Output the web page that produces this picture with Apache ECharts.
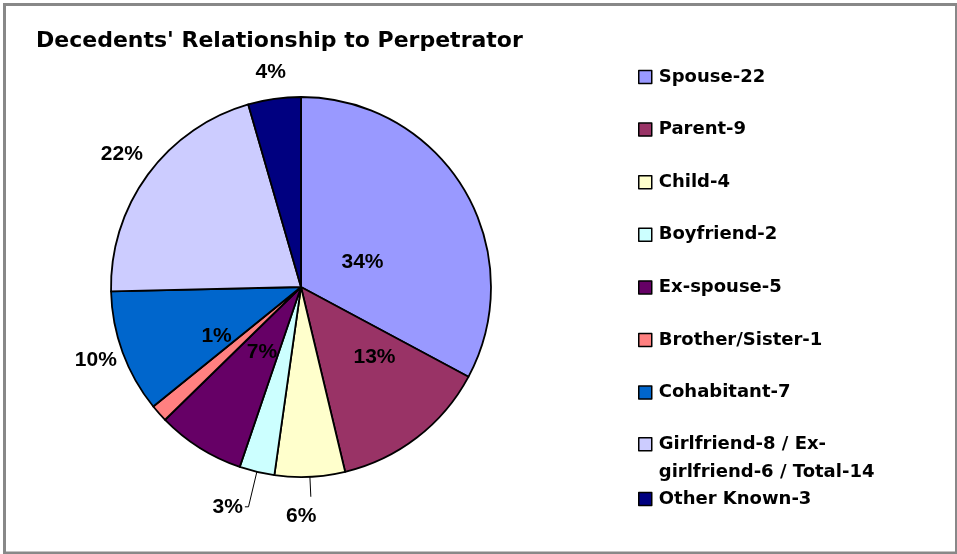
<!DOCTYPE html>
<html><head><meta charset="utf-8">
<script src="https://cdn.jsdelivr.net/npm/echarts@6/dist/echarts.min.js"></script>
<style>html,body{margin:0;padding:0;background:#fff}#c{width:957px;height:554px}</style>
</head><body><div id="c"></div>
<script>
const categories = ['Spouse-22','Parent-9','Child-4','Boyfriend-2','Ex-spouse-5','Brother/Sister-1','Cohabitant-7','Girlfriend-8 / Ex-girlfriend-6 / Total-14','Other Known-3'];
const counts = [22, 9, 4, 2, 5, 1, 7, 14, 3];
const percentLabels = ['34%','13%','6%','3%','7%','1%','10%','22%','4%'];
const colors = ['#9999FF','#993366','#FFFFCC','#CCFFFF','#660066','#FF8080','#0066CC','#CCCCFF','#000080'];

// label styling (not data)
const labelPlacement = ['inside','inside','outside','outside','inside','inside','outside','outside','outside'];
const labelNudge = [[-22.6,25.3],[13.7,-7.6],[-29.8,19.7],null,[13.2,-17.9],[-11.2,-16.1],[-0.8,7.6],[0,-20],[16.5,-27]];
const lineLen = [0,0,20,36,0,0,0,0,0];
const lineLen2 = [0,0,0,3.6,0,0,0,0,0];
const showLine = [false,false,true,true,false,false,false,false,false];

const chart = echarts.init(document.getElementById('c'), null, {renderer:'canvas'});

const pieData = categories.map((name, i) => ({
  name: name,
  value: counts[i],
  itemStyle: { color: colors[i] },
  label: { position: labelPlacement[i], distanceToLabelLine: i === 3 ? 2 : 5 },
  labelLine: { show: showLine[i], length: lineLen[i], length2: lineLen2[i] }
}));

const legendFont = { fontFamily: 'DejaVu Sans', fontWeight: 'bold', fontSize: 18, color: '#000', padding: [0, 0, 0, 2] };
const legendCommon = {
  orient: 'vertical',
  left: 638,
  padding: 0,
  icon: 'rect',
  itemWidth: 13,
  itemHeight: 13,
  selectedMode: false,
  itemStyle: { borderColor: '#000', borderWidth: 1.5 }
};

chart.setOption({
  animation: false,
  backgroundColor: '#fff',
  title: {
    text: "Decedents' Relationship to Perpetrator",
    left: 36,
    top: 30,
    padding: 0,
    textStyle: { fontFamily: 'DejaVu Sans', fontWeight: 'bold', fontSize: 22, color: '#000' }
  },
  graphic: [{
    type: 'rect', silent: true, z: -1,
    shape: { x: 4.5, y: 4.5, width: 952, height: 548.5 },
    style: { fill: 'none', stroke: '#888', lineWidth: 3 }
  }],
  legend: [
    Object.assign({}, legendCommon, {
      top: 67,
      itemGap: 32.6,
      data: categories.slice(0, 7),
      textStyle: Object.assign({}, legendFont, { lineHeight: 20 })
    }),
    Object.assign({}, legendCommon, {
      top: 401.5,
      data: [categories[7]],
      formatter: function (n) { return '\n' + n.replace('Ex-girlfriend', 'Ex-\ngirlfriend'); },
      textStyle: Object.assign({}, legendFont, { lineHeight: 28.5 })
    }),
    Object.assign({}, legendCommon, {
      top: 489,
      data: [categories[8]],
      textStyle: Object.assign({}, legendFont, { lineHeight: 20 })
    })
  ],
  series: [{
    type: 'pie',
    center: [301, 287],
    radius: 190,
    startAngle: 90,
    clockwise: true,
    avoidLabelOverlap: false,
    emphasis: { disabled: true },
    itemStyle: { borderColor: '#000', borderWidth: 1.8 },
    label: {
      show: true,
      formatter: function (p) { return percentLabels[p.dataIndex]; },
      fontFamily: 'Liberation Sans',
      fontWeight: 'bold',
      fontSize: 21,
      color: '#000'
    },
    labelLine: { lineStyle: { color: '#000', width: 1 } },
    labelLayout: function (params) {
      const n = labelNudge[params.dataIndex];
      return n ? { dx: n[0], dy: n[1] } : {};
    },
    data: pieData
  }]
});
</script>
</body></html>
